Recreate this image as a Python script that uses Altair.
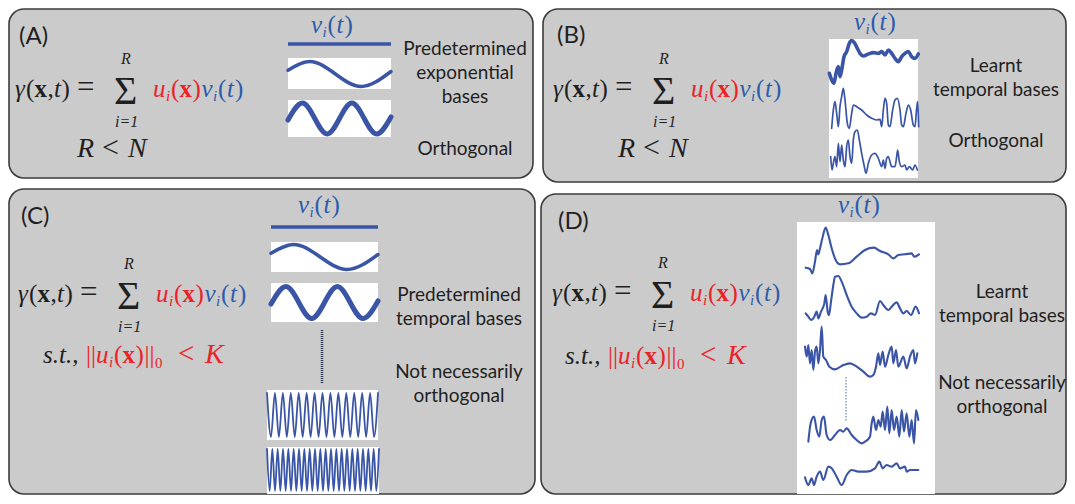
import altair as alt
import pandas as pd

# ---------------- colours / fonts ----------------
INK = "#1f1f1f"
RED = "#ec2227"
BLUE_TXT = "#2b5cab"
BLUE = "#3a55a6"
PANEL_FILL = "#cbcbcb"
PANEL_STROKE = "#3c3c3c"
SANS = "Lato"
SERIF = "Liberation Serif"

# ---------------- text content ----------------
panel_labels = ["(A)", "(B)", "(C)", "(D)"]
side_A = ["Predetermined", "exponential", "bases", "Orthogonal"]
side_B = ["Learnt", "temporal bases", "Orthogonal"]
side_C = ["Predetermined", "temporal bases", "Not necessarily", "orthogonal"]
side_D = ["Learnt", "temporal bases", "Not necessarily", "orthogonal"]

# ---------------- predetermined bases (extremes) ----------------
wave1_t = [0.0, 0.21, 0.71, 1.0]
wave1_v = [0.3, 1, -1, 0.2]
wave2_t = [0.0, 0.14, 0.38, 0.62, 0.86, 1.0]
wave2_v = [-0.1, 1, -1, 1, -1, 0.1]
wave3_v = [1, -1, 1, -1, 1, -1, 1, -1, 1, -1, 1, -1, 1, -1, 1, -1, 1, -1, 1, -1,
           1, -1, 1, -1, 1, -1, 1, -1, 1]
wave4_v = [1, -1, 1, -1, 1, -1, 1, -1, 1, -1, 1, -1, 1, -1, 1, -1, 1, -1, 1, -1,
           1, -1, 1, -1, 1, -1, 1, -1, 1, -1, 1, -1, 1, -1, 1, -1, 1, -1, 1, -1,
           1, -1, 1]

# ---------------- learnt bases, read from 3x crops ----------------
# panel B, crop origin (820, 30)
b1_zx = [28,35,42,48,55,60,65,72,80,88,95,103,112,120,130,145,160,175,185,195,205,215,225,235,245,255,265,275,285,295]
b1_zy = [130,150,160,130,110,140,120,80,65,40,32,38,55,70,78,72,68,70,65,75,60,70,85,95,80,70,65,80,85,72]
b2_zx = [35,40,45,50,55,60,65,70,75,82,88,95,100,110,125,140,155,170,180,185,190,195,200,205,210,218,225,232,240,245,250,258,265,272,280,285,290,293,296]
b2_zy = [295,240,215,250,290,230,200,175,210,280,295,250,225,230,240,255,265,270,268,290,240,205,220,285,290,240,210,205,240,285,290,250,225,240,285,290,235,215,290]
b3_zx = [32,36,40,45,50,55,60,65,70,75,80,85,90,95,100,105,112,118,125,132,138,145,155,165,175,185,190,195,200,205,210,215,225,230,233,238,245,255,260,268,278,285,292]
b3_zy = [380,420,400,380,410,340,395,345,390,410,350,330,380,400,330,305,300,330,370,405,430,400,375,370,385,410,390,415,385,380,395,410,410,380,360,395,410,405,420,410,420,405,420]
# panel D, curves 1-2, crop origin (795, 215)
d1_zx = [32,45,52,60,66,70,75,82,92,100,110,122,135,160,185,210,237,255,280,295,310,330,350,358,372]
d1_zy = [158,162,175,140,105,118,100,70,38,60,100,135,148,145,125,105,98,108,118,130,120,118,115,125,118]
d2_zx = [32,40,48,58,65,70,78,88,92,98,102,108,115,120,130,140,155,170,185,200,215,228,240,255,265,280,290,305,315,325,335,348,362,372]
d2_zy = [295,305,315,305,290,310,290,265,240,290,300,260,210,185,183,200,240,275,295,308,305,295,300,258,270,285,275,262,280,295,288,300,275,295]
# panel D, curves 3-5, crop origin (790, 190)
d3_zx = [45,50,55,60,65,70,75,80,85,90,95,100,108,118,135,160,180,200,220,240,250,258,265,270,278,285,295,305,310,318,325,340,350,360,370,375,382]
d3_zy = [470,500,465,520,480,540,485,470,520,480,410,500,510,530,538,525,520,530,545,560,555,530,490,525,485,530,495,470,520,480,530,500,535,500,480,520,490]
d4_zx = [55,62,72,80,88,95,102,110,120,135,150,160,170,185,200,215,225,240,245,250,258,265,272,278,285,292,298,305,312,320,328,335,342,350,358,365,372,378,385]
d4_zy = [755,700,680,720,740,690,680,735,750,735,720,725,715,735,750,760,755,740,700,680,720,690,710,665,720,650,730,660,720,680,740,660,725,670,740,690,760,660,690]
d5_zx = [45,55,65,72,80,90,100,115,125,140,155,170,185,205,230,255,268,278,290,305,320,330,345,350,360,385]
d5_zy = [862,885,865,885,860,845,870,830,835,860,885,855,840,845,845,835,815,835,825,830,820,835,830,845,840,840]

# ---------------- layout ----------------
panels = pd.DataFrame({
    "x": [9, 543, 9, 541], "x2": [533, 1066, 535, 1066],
    "y": [9, 9, 189, 194], "y2": [178, 182, 494, 494],
})
boxes = pd.DataFrame({
    "x":  [288, 288, 829, 271, 271, 267, 267, 797],
    "x2": [391, 391, 918, 378, 378, 378, 379, 935],
    "y":  [58, 100, 39, 242, 283, 390, 447, 222],
    "y2": [89, 137, 178, 272, 322, 440, 494, 494],
})
const_lines = pd.DataFrame({"x": [288, 271], "x2": [391, 378], "y": [44, 227]})
dots_C = pd.DataFrame({"x": [322], "y": [330], "y2": [384]})
dots_D = pd.DataFrame({"x": [846], "y": [377], "y2": [422]})

rows = []


def add_wave(name, t, v, x1, x2, yc, amp, w):
    for i, (tt, vv) in enumerate(zip(t, v)):
        rows.append({"id": name, "i": i, "x": x1 + tt * (x2 - x1), "y": yc - vv * amp,
                     "w": w, "c": BLUE})


def add_crop(name, ox, oy, zx, zy, w):
    for i, (a, b) in enumerate(zip(zx, zy)):
        rows.append({"id": name, "i": i, "x": ox + a / 3, "y": oy + b / 3, "w": w, "c": BLUE})


add_wave("A1", wave1_t, wave1_v, 288, 391, 74, 12.5, 3.5)
add_wave("A2", wave2_t, wave2_v, 288, 391, 118.5, 15.5, 5)
add_wave("C1", wave1_t, wave1_v, 271, 378, 257, 12.5, 3.5)
add_wave("C2", wave2_t, wave2_v, 271, 378, 302.5, 16, 5)
add_wave("C3", [k / (len(wave3_v) - 1) for k in range(len(wave3_v))], wave3_v, 267, 378, 415, 22, 1.8)
add_wave("C4", [k / (len(wave4_v) - 1) for k in range(len(wave4_v))], wave4_v, 267, 379, 470, 21, 1.8)
add_crop("B1", 820, 30, b1_zx, b1_zy, 3.6)
add_crop("B2", 820, 30, b2_zx, b2_zy, 1.7)
add_crop("B3", 820, 30, b3_zx, b3_zy, 1.7)
add_crop("D1", 795, 215, d1_zx, d1_zy, 2.1)
add_crop("D2", 795, 215, d2_zx, d2_zy, 2.1)
add_crop("D3", 790, 190, d3_zx, d3_zy, 2.1)
add_crop("D4", 790, 190, d4_zx, d4_zy, 2.1)
add_crop("D5", 790, 190, d5_zx, d5_zy, 2.1)
curves = pd.DataFrame(rows)

# formula pieces in panel-A coordinates: (text, x, baseline, style, colour, size)
FORMULA = [
    ("γ", 15, 97, "it", INK, 25), ("(", 26, 97, "rm", INK, 25), ("x", 34.5, 97, "bf", INK, 25),
    (",", 47.5, 97, "rm", INK, 25), ("t", 54, 97, "it", INK, 25), (")", 61.5, 97, "rm", INK, 25),
    ("=", 77, 97, "rm", INK, 31), ("Σ", 114, 104, "rm", INK, 40),
    ("R", 121, 64, "it", INK, 16), ("i=1", 115, 126.5, "it", INK, 16),
    ("u", 153, 97, "it", RED, 25), ("i", 166, 101, "it", RED, 15), ("(", 171, 97, "rm", RED, 25),
    ("x", 179.5, 97, "bf", RED, 25), (")", 192.5, 97, "rm", RED, 25),
    ("v", 201.5, 97, "it", BLUE_TXT, 25), ("i", 213, 101, "it", BLUE_TXT, 15),
    ("(", 218, 97, "rm", BLUE_TXT, 25), ("t", 227, 97, "it", BLUE_TXT, 25),
    (")", 235, 97, "rm", BLUE_TXT, 25),
]
RN = [("R", 77, 157, "it", INK, 28), ("<", 102, 157, "rm", INK, 30), ("N", 128, 157, "it", INK, 28)]
ST = [
    ("s.t.,", 43, 363, "it", INK, 25), ("||", 86, 363, "rm", RED, 25), ("u", 96, 363, "it", RED, 25),
    ("i", 109, 367, "it", RED, 15), ("(", 114, 363, "rm", RED, 25), ("x", 122.5, 363, "bf", RED, 25),
    (")", 135.5, 363, "rm", RED, 25), ("||", 144.5, 363, "rm", RED, 25), ("0", 155, 368, "rm", RED, 15),
    ("<", 178, 363, "rm", RED, 29), ("K", 205, 363, "it", RED, 28),
]
VIT = [("v", 0, 0, "it", BLUE_TXT, 25), ("i", 11.5, 4, "it", BLUE_TXT, 15), ("(", 16.5, 0, "rm", BLUE_TXT, 25),
       ("t", 25.5, 0, "it", BLUE_TXT, 25), (")", 33.5, 0, "rm", BLUE_TXT, 25)]

math_rows = []


def place(pieces, dx, dy):
    for (t, x, y, s, c, z) in pieces:
        math_rows.append({"text": t, "x": x + dx, "y": y + dy, "style": s, "color": c, "size": z})


place(FORMULA, 0, 0)
place(FORMULA, 538, 0)
place(FORMULA, 3, 205)
place(FORMULA, 537, 204)
place(RN, 0, 0)
place(RN, 541, 0)
place(ST, 0, 0)
place(ST, 522, 1)
place(VIT, 311, 33)
place(VIT, 854, 30)
place(VIT, 298, 213)
place(VIT, 838, 213)
math = pd.DataFrame(math_rows)

labels = pd.DataFrame({"text": panel_labels, "x": [19, 557, 21, 558], "y": [44, 43, 224, 229]})
side = pd.DataFrame({
    "text": side_A + side_B + side_C + side_D,
    "x": [465] * 4 + [996] * 3 + [459] * 4 + [1002] * 4,
    "y": [55, 79, 103, 155, 72, 96, 147, 301, 325, 378, 402, 298, 322, 389, 413],
})

# ---------------- chart ----------------
XS = alt.Scale(domain=[8, 1067], nice=False, zero=False)
YS = alt.Scale(domain=[8, 496], nice=False, zero=False, reverse=True)
X = alt.X("x:Q", scale=XS, axis=None)
Y = alt.Y("y:Q", scale=YS, axis=None)

panel_layer = alt.Chart(panels).mark_rect(
    cornerRadius=15, fill=PANEL_FILL, stroke=PANEL_STROKE, strokeWidth=1.6
).encode(x=X, x2="x2:Q", y=Y, y2="y2:Q")

box_layer = alt.Chart(boxes).mark_rect(fill="white").encode(x=X, x2="x2:Q", y=Y, y2="y2:Q")

const_layer = alt.Chart(const_lines).mark_rule(color=BLUE, strokeWidth=3.5).encode(x=X, x2="x2:Q", y=Y)
dotC_layer = alt.Chart(dots_C).mark_rule(color="#2b3550", strokeWidth=2.5, strokeDash=[1, 1]).encode(
    x=X, y=Y, y2="y2:Q")
dotD_layer = alt.Chart(dots_D).mark_rule(color="#6a7fb8", strokeWidth=1.2, strokeDash=[1.5, 1.5]).encode(
    x=X, y=Y, y2="y2:Q")

curve_layer = alt.Chart(curves).mark_line(
    interpolate="monotone", strokeCap="round", strokeJoin="round"
).encode(
    x=X, y=Y, detail="id:N", order="i:Q",
    color=alt.Color("c:N", scale=None),
    strokeWidth=alt.StrokeWidth("w:Q", scale=None),
)


def math_layer(style, **kw):
    return alt.Chart(math[math["style"] == style]).mark_text(
        align="left", baseline="alphabetic", font=SERIF, **kw
    ).encode(
        x=X, y=Y, text="text:N",
        color=alt.Color("color:N", scale=None),
        size=alt.Size("size:Q", scale=None),
    )


it_layer = math_layer("it", fontStyle="italic")
rm_layer = math_layer("rm")
bf_layer = math_layer("bf", fontWeight="bold")

label_layer = alt.Chart(labels).mark_text(
    align="left", baseline="alphabetic", font=SANS, fontSize=24, color=INK
).encode(x=X, y=Y, text="text:N")

side_layer = alt.Chart(side).mark_text(
    align="center", baseline="alphabetic", font=SANS, fontSize=19, color=INK
).encode(x=X, y=Y, text="text:N")

chart = alt.layer(
    panel_layer, box_layer, const_layer, curve_layer, dotC_layer, dotD_layer,
    it_layer, rm_layer, bf_layer, label_layer, side_layer,
).properties(
    width=1059, height=488, autosize=alt.AutoSizeParams(type="none"), padding=0
).configure_view(stroke=None)

chart.save("out.html", embed_options={"renderer": "svg", "actions": False})
